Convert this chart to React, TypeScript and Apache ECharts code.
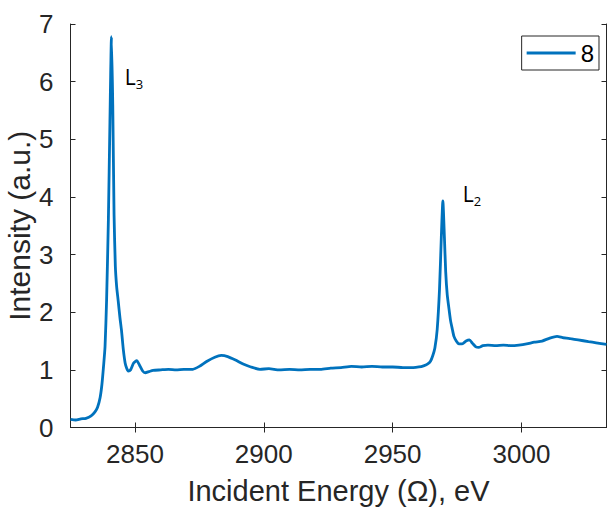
import React, { useEffect, useRef } from "react";
import * as echarts from "echarts";

const energy: number[] = [
  2825, 2827, 2829, 2831, 2833, 2834.5, 2835.5, 2836.5, 2837.2, 2837.8, 2838.4, 2839.0, 2839.7, 2840.3, 2840.9,
  2841.4, 2841.9, 2842.4, 2842.9, 2843.5, 2844.2, 2844.8, 2845.5, 2846.2, 2846.8, 2847.4, 2848.3, 2849.5, 2850.7,
  2851.8, 2853, 2854, 2855.5, 2857, 2860, 2863, 2866, 2869, 2872.5, 2875, 2878, 2881, 2883.5, 2886, 2889, 2892,
  2895, 2898.5, 2902, 2906, 2910, 2914, 2918, 2922, 2926, 2930, 2934, 2938, 2942, 2946, 2950, 2954, 2958, 2960.2,
  2962, 2963.5, 2964.7, 2965.6, 2966.4, 2967.3, 2968.2, 2968.9, 2969.5, 2970.1, 2970.6, 2971.2, 2971.9, 2972.5,
  2973.2, 2973.8, 2974.7, 2975.7, 2977, 2978.5, 2979.8, 2981, 2982.3, 2983.4, 2985, 2987, 2990, 2993, 2996, 2999,
  3002, 3005, 3008, 3011, 3013.8, 3016, 3019, 3022, 3026, 3029, 3033,
];

const intensity: number[] = [
  0.14, 0.13, 0.15, 0.16, 0.2, 0.27, 0.35, 0.52, 0.75, 1.05, 1.4, 2.2, 3.6, 5.3, 6.78,
  5.6, 3.7, 2.8, 2.45, 2.2, 1.9, 1.68, 1.35, 1.12, 1.03, 0.98, 1.0, 1.12, 1.16,
  1.08, 0.98, 0.95, 0.97, 0.99, 1.0, 1.01, 1.0, 1.01, 1.01, 1.06, 1.15, 1.22, 1.25, 1.23, 1.17, 1.1,
  1.05, 1.01, 1.02, 1.0, 1.01, 1.0, 1.01, 1.01, 1.03, 1.04, 1.06, 1.05, 1.06, 1.05, 1.05, 1.04, 1.04, 1.05,
  1.07, 1.1, 1.15, 1.25, 1.38, 1.7, 2.4, 3.3, 3.93, 3.3, 2.7, 2.3, 2.05, 1.85,
  1.7, 1.58, 1.5, 1.45, 1.45, 1.5, 1.52, 1.46, 1.4, 1.39, 1.42, 1.43, 1.42, 1.43, 1.42, 1.43,
  1.45, 1.48, 1.5, 1.55, 1.58, 1.56, 1.54, 1.52, 1.49, 1.47, 1.44,
];

const xTicks: number[] = [2850, 2900, 2950, 3000];
const seriesName = "8";
const peakLabels: { sub: string; x: number; y: number }[] = [
  { sub: "3", x: 2846.1, y: 6.06 },
  { sub: "2", x: 2977.2, y: 4.02 },
];

const FONT = '"Liberation Sans", Arial, Helvetica, sans-serif';
const LFONT = '"Open Sans", "Noto Sans", sans-serif';
const AX = "#262626";

export default function App() {
  const ref = useRef<HTMLDivElement>(null);
  useEffect(() => {
    if (!ref.current) return;
    const chart = echarts.init(ref.current, undefined, { renderer: "svg" });
    const data = energy.map((e, i) => [e, intensity[i]]);
    const axisLine = { show: true, lineStyle: { color: AX, width: 1 } };
    chart.setOption({
      animation: false,
      backgroundColor: "#ffffff",
      textStyle: { fontFamily: FONT },
      grid: { left: 70.5, top: 24, right: 1.5, bottom: 83.5, containLabel: false, outerBoundsMode: "none" },
      legend: {
        show: true,
        right: 9,
        top: 36,
        padding: [5, 5, 5, 5],
        backgroundColor: "#ffffff",
        borderColor: AX,
        borderWidth: 1,
        borderRadius: 0,
        itemWidth: 49,
        itemHeight: 3,
        icon: "rect",
        itemStyle: { color: "#0072BD" },
        textStyle: { fontSize: 24, color: "#000", fontFamily: FONT },
        data: [seriesName],
      },
      xAxis: [
        {
          type: "value",
          min: 2825,
          max: 3033,
          position: "bottom",
          name: "Incident Energy (Ω), eV",
          nameLocation: "middle",
          nameGap: 49,
          nameMoveOverlap: false,
          nameTextStyle: { fontSize: 29, color: AX, fontFamily: FONT },
          axisLine,
          axisTick: { show: true, inside: true, length: 5, customValues: xTicks, lineStyle: { color: AX } },
          axisLabel: {
            show: true,
            customValues: xTicks,
            fontSize: 26,
            color: AX,
            margin: 13,
            fontFamily: FONT,
            formatter: (v: number) => String(v),
          },
          splitLine: { show: false },
        },
        {
          type: "value",
          min: 2825,
          max: 3033,
          position: "top",
          axisLine,
          axisTick: { show: true, inside: true, length: 5, customValues: xTicks, lineStyle: { color: AX } },
          axisLabel: { show: false },
          splitLine: { show: false },
        },
      ],
      yAxis: [
        {
          type: "value",
          min: 0,
          max: 7,
          interval: 1,
          position: "left",
          name: "Intensity (a.u.)",
          nameLocation: "middle",
          nameGap: 36,
          nameMoveOverlap: false,
          nameTextStyle: { fontSize: 30, color: AX, fontFamily: FONT },
          axisLine,
          axisTick: { show: true, inside: true, length: 5, lineStyle: { color: AX } },
          axisLabel: { fontSize: 26, color: AX, margin: 17, fontFamily: FONT },
          splitLine: { show: false },
        },
        {
          type: "value",
          min: 0,
          max: 7,
          interval: 1,
          position: "right",
          axisLine,
          axisTick: { show: true, inside: true, length: 5, lineStyle: { color: AX } },
          axisLabel: { show: false },
          splitLine: { show: false },
        },
      ],
      series: [
        {
          name: seriesName,
          type: "line",
          xAxisIndex: 0,
          yAxisIndex: 0,
          data,
          symbol: "none",
          showSymbol: false,
          smooth: 0.2,
          lineStyle: { color: "#0072BD", width: 2.8 },
          itemStyle: { color: "#0072BD" },
          markPoint: {
            symbol: "circle",
            symbolSize: 0,
            silent: true,
            data: peakLabels.map((p) => ({
              coord: [p.x, p.y],
              label: {
                show: true,
                position: "inside",
                align: "left",
                verticalAlign: "middle",
                formatter: `{l|L}{s|${p.sub}}`,
                rich: {
                  l: { fontSize: 21, lineHeight: 24, color: "#000", fontFamily: LFONT, verticalAlign: "top" },
                  s: { fontSize: 13, lineHeight: 15, color: "#000", fontFamily: LFONT, verticalAlign: "bottom" },
                },
              },
            })),
          },
        },
      ],
    });
    return () => chart.dispose();
  }, []);
  return <div ref={ref} style={{ position: "absolute", left: 0, top: 0, width: 608, height: 511 }} />;
}
